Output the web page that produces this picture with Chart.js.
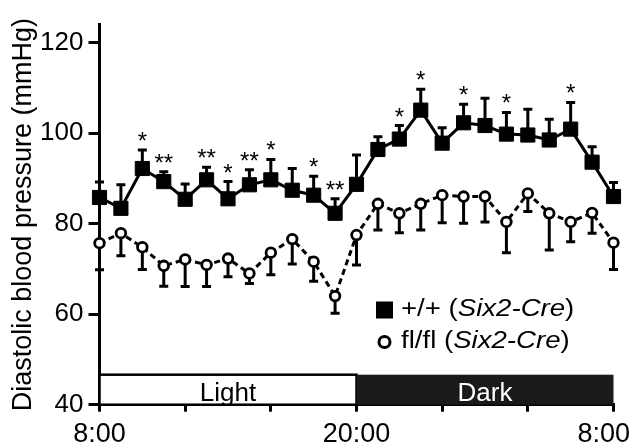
<!DOCTYPE html>
<html>
<head>
<meta charset="utf-8">
<script src="https://cdn.jsdelivr.net/npm/chart.js@4.4.1/dist/chart.umd.min.js"></script>
<style>
  html, body { margin: 0; padding: 0; background: #fff; }
  canvas { display: block; }
</style>
</head>
<body>
<canvas id="bpChart" width="631" height="448"></canvas>
<script>
const FONT = "'Liberation Sans', Arial, sans-serif";

// Hours after 8:00, one reading per hour
const hours = [0, 1, 2, 3, 4, 5, 6, 7, 8, 9, 10, 11, 12, 13, 14, 15, 16, 17, 18, 19, 20, 21, 22, 23, 24];
const xTickMarks = [0, 4, 8, 12, 16, 20, 24];
const xTickHours = [0, 12, 24];
const xTickLabels = ['8:00', '20:00', '8:00'];
const yTicks = [40, 60, 80, 100, 120];

// +/+ (Six2-Cre): mean, SEM, significance marks
const wtMean = [85.8, 83.4, 92.2, 89.3, 85.4, 89.7, 85.5, 88.6, 89.7, 87.4, 86.3, 82.3, 88.7,
                96.4, 98.7, 105.1, 97.8, 102.3, 101.7, 99.8, 99.6, 98.5, 100.9, 93.6, 86.0];
const wtSem = [3.4, 5.2, 4.1, 2.2, 3.4, 2.8, 3.8, 3.3, 4.5, 4.8, 4.2, 3.2, 6.5,
               2.8, 3.0, 4.6, 3.4, 4.1, 6.0, 4.8, 5.7, 4.6, 5.9, 3.4, 3.1];
const wtStars = ['', '', '*', '**', '', '**', '*', '**', '*', '', '*', '**', '',
                 '', '*', '*', '', '*', '', '*', '', '', '*', '', ''];

// fl/fl (Six2-Cre): mean, SEM
const koMean = [75.7, 77.9, 74.8, 70.7, 72.1, 70.9, 72.3, 69.0, 73.6, 76.6, 71.6, 64.0, 77.5,
                84.4, 82.3, 84.4, 86.3, 86.0, 86.0, 80.4, 86.7, 82.3, 80.4, 82.4, 75.8];
const koSem = [5.9, 5.0, 4.9, 4.5, 6.0, 4.8, 4.0, 2.2, 4.9, 5.5, 4.3, 3.8, 6.6,
               5.8, 4.3, 5.8, 6.1, 5.9, 5.6, 6.8, 4.0, 8.1, 4.4, 4.5, 5.9];

const phaseLabels = ['Light', 'Dark'];
const phaseStart = [0, 12];
const phaseEnd = [12, 24];

const legendLabels = ['+/+', 'fl/fl'];
const legendStrain = 'Six2-Cre';

function toPoints(values) {
    return hours.map((h, i) => ({ x: h, y: values[i] }));
}

function drawErr(ctx, px, py0, py1) {
    ctx.beginPath();
    ctx.moveTo(px, py0);
    ctx.lineTo(px, py1);
    ctx.moveTo(px - 4.5, py1);
    ctx.lineTo(px + 4.5, py1);
    ctx.stroke();
}

// Light/Dark band and error bars, under the lines
const underlay = {
    id: 'underlay',
    beforeDatasetsDraw(chart) {
        const { ctx, scales: { x, y } } = chart;
        const bottom = y.getPixelForValue(40);
        const top = bottom - 30;
        ctx.save();
        phaseLabels.forEach((label, i) => {
            const x0 = x.getPixelForValue(phaseStart[i]);
            const x1 = x.getPixelForValue(phaseEnd[i]);
            const dark = label === 'Dark';
            ctx.fillStyle = dark ? '#1a1a1a' : '#fff';
            ctx.fillRect(x0, top, x1 - x0, bottom - top);
            if (!dark) {
                ctx.strokeStyle = '#000';
                ctx.lineWidth = 2.5;
                ctx.strokeRect(x0, top, x1 - x0, bottom - top);
            }
            ctx.fillStyle = dark ? '#fff' : '#000';
            ctx.font = `26px ${FONT}`;
            ctx.textAlign = 'center';
            ctx.textBaseline = 'alphabetic';
            ctx.fillText(label, (x0 + x1) / 2, bottom - 3.5);
        });

        ctx.strokeStyle = '#000';
        ctx.lineWidth = 3;
        hours.forEach((h, i) => {
            const px = x.getPixelForValue(h);
            drawErr(ctx, px, y.getPixelForValue(wtMean[i]), y.getPixelForValue(wtMean[i] + wtSem[i]));
            drawErr(ctx, px, y.getPixelForValue(koMean[i]), y.getPixelForValue(koMean[i] - koSem[i]));
        });
        ctx.restore();
    }
};

function drawLegendText(ctx, x, y, parts) {
    ctx.save();
    ctx.translate(x, y);
    ctx.scale(1.2, 1);
    let cx = 0;
    parts.forEach(([text, italic]) => {
        ctx.font = `${italic ? 'italic ' : ''}23px ${FONT}`;
        ctx.fillText(text, cx, 0);
        cx += ctx.measureText(text).width;
    });
    ctx.restore();
}

// Stars, x tick labels and legend, on top
const overlay = {
    id: 'overlay',
    afterDatasetsDraw(chart) {
        const { ctx, scales: { x, y } } = chart;
        ctx.save();
        ctx.fillStyle = '#000';

        ctx.font = `24px ${FONT}`;
        ctx.textAlign = 'center';
        ctx.textBaseline = 'alphabetic';
        hours.forEach((h, i) => {
            if (!wtStars[i]) return;
            ctx.fillText(wtStars[i], x.getPixelForValue(h), y.getPixelForValue(wtMean[i] + wtSem[i]) - 1);
        });

        ctx.font = `27px ${FONT}`;
        xTickHours.forEach((h, i) => {
            const w = ctx.measureText(xTickLabels[i]).width;
            const px = Math.min(x.getPixelForValue(h), chart.width - w / 2 - 1);
            ctx.fillText(xTickLabels[i], px, 442);
        });

        // legend
        const lx = 384.5;
        const rows = [310, 342];
        ctx.fillRect(lx - 8.5, rows[0] - 8.5, 17, 17);
        ctx.beginPath();
        ctx.arc(lx, rows[1], 5.5, 0, Math.PI * 2);
        ctx.fillStyle = '#fff';
        ctx.fill();
        ctx.strokeStyle = '#000';
        ctx.lineWidth = 3;
        ctx.stroke();
        ctx.fillStyle = '#000';
        ctx.textAlign = 'left';
        ctx.textBaseline = 'middle';
        legendLabels.forEach((label, i) => {
            drawLegendText(ctx, 401, rows[i], [[label + ' (', false], [legendStrain, true], [')', false]]);
        });
        ctx.restore();
    }
};

new Chart(document.getElementById('bpChart'), {
    type: 'line',
    data: {
        datasets: [
            {
                label: '+/+ (Six2-Cre)',
                data: toPoints(wtMean),
                clip: false,
                borderColor: '#000',
                borderWidth: 3,
                pointStyle: 'rect',
                pointRadius: 10,
                pointBorderWidth: 1,
                pointBackgroundColor: '#000',
                pointBorderColor: '#000',
            },
            {
                label: 'fl/fl (Six2-Cre)',
                data: toPoints(koMean),
                clip: false,
                borderColor: '#000',
                borderWidth: 3,
                borderDash: [6, 4],
                pointStyle: 'circle',
                pointRadius: 4.8,
                pointBorderWidth: 2.8,
                pointBackgroundColor: '#fff',
                pointBorderColor: '#000',
            }
        ]
    },
    options: {
        responsive: false,
        animation: false,
        layout: { padding: { top: 24.6, right: 17.5, left: 0, bottom: 0 } },
        plugins: {
            legend: { display: false },
            tooltip: { enabled: false }
        },
        scales: {
            x: {
                type: 'linear',
                min: 0,
                max: 24,
                afterBuildTicks: s => { s.ticks = xTickMarks.map(v => ({ value: v })); },
                ticks: { display: false },
                grid: { drawOnChartArea: false, tickLength: 7, color: '#000', lineWidth: 3 },
                border: { color: '#000', width: 3 },
                afterFit: s => { s.height = 43.3; s.paddingLeft = 0; s.paddingRight = 0; }
            },
            y: {
                min: 40,
                max: 124,
                afterBuildTicks: s => { s.ticks = yTicks.map(v => ({ value: v })); },
                ticks: { color: '#000', padding: 5, font: { size: 26, family: FONT } },
                grid: { drawOnChartArea: false, tickLength: 11, color: '#000', lineWidth: 3 },
                border: { color: '#000', width: 3 },
                title: {
                    display: true,
                    text: 'Diastolic blood pressure (mmHg)',
                    color: '#000',
                    font: { size: 27, family: FONT },
                    padding: { top: 7, bottom: 0 }
                },
                afterFit: s => { s.width = 99.5; s.paddingTop = 0; s.paddingBottom = 0; }
            }
        }
    },
    plugins: [underlay, overlay]
});
</script>
</body>
</html>
